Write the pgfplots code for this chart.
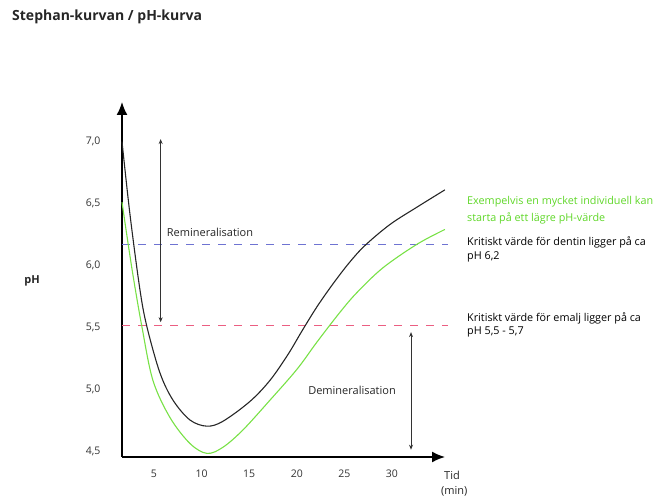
\documentclass[border=0pt]{standalone}
\usepackage{pgfplots}
\pgfplotsset{compat=1.18}
\usepackage{fontspec}
\setmainfont{Open Sans}
\usetikzlibrary{arrows.meta}
\definecolor{curvegreen}{RGB}{120,225,70}
\definecolor{textgreen}{RGB}{95,215,40}
\definecolor{dashblue}{RGB}{110,115,210}
\definecolor{dashred}{RGB}{235,95,130}
\begin{document}
\begin{tikzpicture}[x=1pt,y=1pt]
\path[use as bounding box] (0,0) rectangle (656,502);
\begin{axis}[
  at={(122pt,45pt)}, anchor=south west,
  scale only axis, width=323pt, height=355pt,
  xmin=1.64, xmax=35.57, ymin=4.451, ymax=7.32,
  axis x line=bottom, axis y line=left,
  axis line style={line width=1.6pt, -{Latex[length=13pt,width=11pt]}},
  xtick={5,10,15,20,25,30}, ytick={4.5,5.0,5.5,6.0,6.5,7.0},
  major tick length=0pt,
  tick label style={font=\fontsize{10.5}{12}\selectfont, text=black!80},
  /pgf/number format/.cd, use comma, fixed, fixed zerofill, precision=1, assume math mode=true,
  /pgfplots/.cd,
  xticklabel style={yshift=-9pt, /pgf/number format/precision=0, /pgf/number format/fixed zerofill=false},
  yticklabel style={xshift=-18pt},
  clip=false,
]
% critical lines
\addplot[dashblue, line width=1pt, dash pattern=on 8pt off 8pt] coordinates {(1.64,6.17) (35.9,6.17)};
\addplot[dashred, line width=1pt, dash pattern=on 8pt off 8pt] coordinates {(1.64,5.51) (35.9,5.51)};
% green curve
\addplot[curvegreen, line width=1.1pt, smooth, tension=0.55] coordinates {
(1.64,6.51) (2.69,5.97) (3.74,5.50) (4.89,5.07) (6.68,4.77) (8.78,4.56) (10.57,4.48)
(12.25,4.53) (14.35,4.67) (17.18,4.91) (20.02,5.16) (22.12,5.38) (24.53,5.62) (26.32,5.78)
(29.05,5.98) (32.62,6.17) (35.56,6.29)};
% black curve
\addplot[black!85, line width=1.1pt, smooth, tension=0.55] coordinates {
(1.64,7.00) (2.48,6.41) (3.53,5.80) (4.27,5.50) (5.63,5.13) (7.0,4.91) (8.78,4.75) (10.57,4.70)
(12.25,4.74) (15.08,4.90) (17.18,5.07) (19.08,5.28) (20.55,5.47) (22.12,5.665) (23.8,5.85)
(25.5,6.02) (27.16,6.16) (29.79,6.33) (32.62,6.47) (35.56,6.61)};
% arrows
\draw[black!80, line width=0.9pt, {Stealth[length=5pt,width=4pt]}-{Stealth[length=5pt,width=4pt]}] (axis cs:5.7,7.02) -- (axis cs:5.7,5.54);
\draw[black!80, line width=0.9pt, {Stealth[length=5pt,width=4pt]}-{Stealth[length=5pt,width=4pt]}] (axis cs:32.0,5.46) -- (axis cs:32.0,4.51);
\end{axis}
\begin{scope}[every node/.style={font=\fontsize{10.8}{12}\selectfont, inner sep=0pt}]
\node[anchor=west, font=\bfseries\fontsize{14}{16}\selectfont, text=black!85] at (12,485) {Stephan-kurvan / pH-kurva};
\node[font=\bfseries\fontsize{11}{12}\selectfont, text=black!85] at (32,221) {pH};
\node[text=black!85, font=\fontsize{11}{12}\selectfont] at (210,270) {Remineralisation};
\node[text=black!85, font=\fontsize{11}{12}\selectfont] at (352,112) {Demineralisation};
\node[anchor=west, text=textgreen] at (467,300) {Exempelvis en mycket individuell kan};
\node[anchor=west, text=textgreen] at (467,284) {starta på ett lägre pH-värde};
\node[anchor=west] at (467,260) {Kritiskt värde för dentin ligger på ca};
\node[anchor=west] at (467,245) {pH 6,2};
\node[anchor=west] at (467,184) {Kritiskt värde för emalj ligger på ca};
\node[anchor=west] at (467,170) {pH 5,5 - 5,7};
\node[anchor=west, text=black!85, font=\fontsize{11}{12}\selectfont] at (444,27) {Tid};
\node[anchor=west, text=black!85, font=\fontsize{11}{12}\selectfont] at (441,11) {(min)};
\end{scope}
\end{tikzpicture}
\end{document}
